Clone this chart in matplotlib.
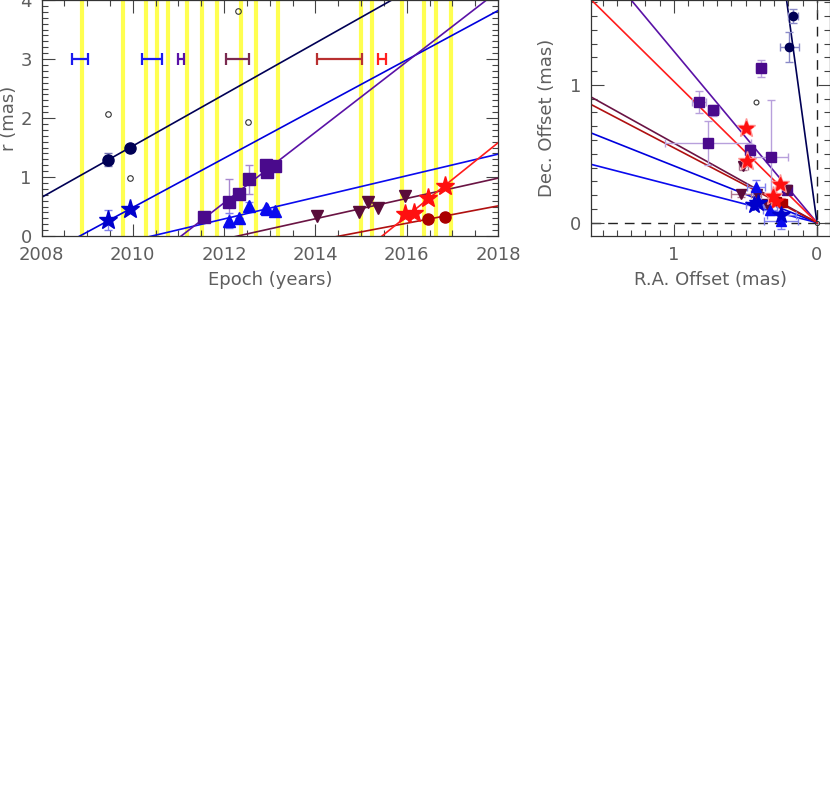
import numpy as np
import matplotlib
matplotlib.use("Agg")
import matplotlib.pyplot as plt
from matplotlib.ticker import MultipleLocator

plt.rcParams['font.family'] = ['DejaVu Sans']
GREY = '#5e5e5e'

# ---- left panel data ----
obs_epochs = [2008.88, 2009.78, 2010.28, 2010.52, 2010.77, 2011.18, 2011.51, 2011.85,
              2012.37, 2012.70, 2013.18, 2015.00, 2015.24, 2015.89, 2016.38, 2016.64, 2016.97]

# components: fitted ejection epoch t0 and speed (mas/yr)
comp_names = ['navy', 'blue_star', 'blue_tri', 'purple', 'maroon', 'darkred', 'red']
comp_colors = ['#000055', '#0000dd', '#0a0aee', '#5a12a6', '#6a1444', '#b01010', '#ff1c1c']
comp_t0 = [2006.50, 2008.84, 2010.42, 2011.06, 2012.30, 2014.53, 2015.46]
comp_speed = [0.436, 0.417, 0.183, 0.598, 0.172, 0.147, 0.622]

# ejection epoch uncertainties (shown at r = 3)
ej_idx = [1, 2, 3, 4, 5, 6]
ej_err = [0.17, 0.22, 0.07, 0.25, 0.49, 0.09]
ej_colors = ['#1a1aee', '#1a1aee', '#5a12a6', '#7a2a50', '#b83030', '#ff2020']

navy_t = [2009.46, 2009.94]
navy_r = [1.29, 1.50]
navy_e = [0.11, 0.0]

bstar_t = [2009.46, 2009.94]
bstar_r = [0.27, 0.46]
bstar_e = [0.165, 0.0]

sq_t = [2011.57, 2012.11, 2012.33, 2012.54, 2012.91, 2012.95, 2013.12]
sq_r = [0.33, 0.58, 0.71, 0.96, 1.20, 1.09, 1.19]
sq_e = [0.0, 0.39, 0.0, 0.24, 0.0, 0.0, 0.0]

tri_t = [2012.11, 2012.33, 2012.54, 2012.91, 2012.95, 2013.12]
tri_r = [0.26, 0.31, 0.51, 0.47, 0.46, 0.42]
tri_e = [0.13, 0.0, 0.07, 0.0, 0.0, 0.0]

inv_t = [2014.03, 2014.96, 2015.16, 2015.38, 2015.97]
inv_r = [0.34, 0.40, 0.58, 0.48, 0.67]

dr_t = [2016.46, 2016.84]
dr_r = [0.28, 0.33]

rstar_t = [2015.96, 2016.17, 2016.46, 2016.84]
rstar_r = [0.37, 0.39, 0.65, 0.85]

open_t = [2009.45, 2009.94, 2012.53, 2012.30]
open_r = [2.06, 0.98, 1.93, 3.82]

# ---- right panel data (RA offset, Dec offset in mas) ----
comp_pa = [7.5, 67.6, 75.0, 38.8, 60.0, 61.5, 44.3]  # position angle, deg

r_navy_ra = [0.166, 0.194]
r_navy_dec = [1.50, 1.276]
r_navy_xe = [0.035, 0.065]
r_navy_ye = [0.05, 0.11]

r_sq_ra = [0.823, 0.725, 0.39, 0.76, 0.47, 0.32, 0.21]
r_sq_dec = [0.879, 0.816, 1.12, 0.577, 0.528, 0.48, 0.24]
r_sq_xe = [0.05, 0.04, 0.035, 0.30, 0.03, 0.12, 0.03]
r_sq_ye = [0.08, 0.04, 0.06, 0.16, 0.04, 0.41, 0.03]

r_inv_ra = [0.515, 0.53, 0.42, 0.35, 0.21]
r_inv_dec = [0.41, 0.206, 0.21, 0.134, 0.24]
r_inv_xe = [0.03, 0.07, 0.03, 0.03, 0.02]
r_inv_ye = [0.03, 0.02, 0.02, 0.02, 0.02]

r_rstar_ra = [0.50, 0.49, 0.26, 0.31, 0.29]
r_rstar_dec = [0.69, 0.45, 0.28, 0.19, 0.16]

r_dr_ra = [0.28, 0.24]
r_dr_dec = [0.16, 0.145]

r_tri_ra = [0.427, 0.25, 0.33]
r_tri_dec = [0.26, 0.012, 0.09]
r_tri_xe = [0.065, 0.12, 0.05]
r_tri_ye = [0.05, 0.06, 0.03]

r_bstar_ra = [0.44, 0.41, 0.25]
r_bstar_dec = [0.126, 0.145, 0.056]
r_bstar_xe = [0.06, 0.04, 0.1]
r_bstar_ye = [0.03, 0.03, 0.03]

r_open_ra = [0.427]
r_open_dec = [0.879]


fig = plt.figure(figsize=(8.3, 7.87), dpi=100)
W, H = 830.0, 787.0
ax = fig.add_axes([41.5 / W, 1 - 236 / H, 456.5 / W, 236 / H])
ax2 = fig.add_axes([590.7 / W, 1 - 236 / H, 239.3 / W, 236 / H])

for a in (ax, ax2):
    a.tick_params(which='both', direction='in', top=True, right=True,
                  colors='#444444', labelcolor=GREY, labelsize=13)
    a.tick_params(which='major', length=9, width=0.8, pad=7)
    a.tick_params(which='minor', length=4.5, width=0.8)
    for s in a.spines.values():
        s.set_color('#333333')
        s.set_linewidth(0.9)

# left panel
for e in obs_epochs:
    ax.axvline(e, color='#ffff50', lw=3, zorder=0)

tt = np.array([2006.0, 2019.0])
for c, t0, v in zip(comp_colors, comp_t0, comp_speed):
    ax.plot(tt, v * (tt - t0), color=c, lw=1.2, zorder=2)

for i, e, c in zip(ej_idx, ej_err, ej_colors):
    ax.errorbar([comp_t0[i]], [3.0], xerr=[e], fmt='none', ecolor=c, elinewidth=1.6,
                capsize=4, capthick=1.6, zorder=3)

ax.errorbar(navy_t, navy_r, yerr=navy_e, fmt='none', ecolor='#7070b0', elinewidth=1, capsize=3, zorder=3)
ax.plot(navy_t, navy_r, 'o', color='#000055', ms=8, zorder=4)
ax.errorbar(bstar_t, bstar_r, yerr=bstar_e, fmt='none', ecolor='#8080ee', elinewidth=1, capsize=3, zorder=3)
ax.plot(bstar_t, bstar_r, '*', color='#0000cc', ms=14, zorder=4)
ax.errorbar(sq_t, sq_r, yerr=sq_e, fmt='none', ecolor='#a888d0', elinewidth=1, capsize=3, zorder=3)
ax.plot(sq_t, sq_r, 's', color='#4a0a8c', ms=9, zorder=4)
ax.errorbar(tri_t, tri_r, yerr=tri_e, fmt='none', ecolor='#8080ee', elinewidth=1, capsize=3, zorder=3)
ax.plot(tri_t, tri_r, '^', color='#0a0aee', ms=8, zorder=4)
ax.plot(inv_t, inv_r, 'v', color='#5a0c3a', ms=8, zorder=4)
ax.plot(dr_t, dr_r, 'o', color='#aa0000', ms=8, zorder=4)
ax.plot(rstar_t, rstar_r, '*', color='#ff1010', ms=14, zorder=4)
ax.plot(open_t, open_r, 'o', mfc='none', mec='#333333', mew=0.8, ms=4, zorder=4)

ax.set_xlim(2008, 2018)
ax.set_ylim(0, 4)
ax.xaxis.set_major_locator(MultipleLocator(2))
ax.xaxis.set_minor_locator(MultipleLocator(0.5))
ax.yaxis.set_major_locator(MultipleLocator(1))
ax.yaxis.set_minor_locator(MultipleLocator(0.1))
ax.set_xlabel('Epoch (years)', fontsize=13, color=GREY, labelpad=5)
ax.set_ylabel('r (mas)', fontsize=13, color=GREY)
ax.yaxis.set_label_coords(-0.052, 0.5)

# right panel
ax2.axhline(0, color='#222222', lw=1, ls=(0, (7, 5)), zorder=1)
ax2.axvline(0, color='#222222', lw=1, ls=(0, (7, 5)), zorder=1)
for c, pa in zip(comp_colors, comp_pa):
    th = np.radians(pa)
    ax2.plot([0, 3 * np.sin(th)], [0, 3 * np.cos(th)], color=c, lw=1.2, zorder=2)

ax2.errorbar(r_navy_ra, r_navy_dec, xerr=r_navy_xe, yerr=r_navy_ye, fmt='none',
             ecolor='#8a8ac8', elinewidth=1, capsize=3, zorder=3)
ax2.plot(r_navy_ra, r_navy_dec, 'o', color='#000055', ms=6, zorder=4)
ax2.errorbar(r_sq_ra, r_sq_dec, xerr=r_sq_xe, yerr=r_sq_ye, fmt='none',
             ecolor='#b8a0dc', elinewidth=1, capsize=3, zorder=3)
ax2.plot(r_sq_ra, r_sq_dec, 's', color='#4a0a8c', ms=6.5, zorder=4)
ax2.errorbar(r_inv_ra, r_inv_dec, xerr=r_inv_xe, yerr=r_inv_ye, fmt='none',
             ecolor='#b07890', elinewidth=1, capsize=3, zorder=3)
ax2.plot(r_inv_ra, r_inv_dec, 'v', color='#5a0c3a', ms=6.5, zorder=4)
ax2.plot(r_rstar_ra, r_rstar_dec, '*', color='#ff9090', ms=14, zorder=4)
ax2.plot(r_rstar_ra, r_rstar_dec, '*', color='#ff1010', ms=10, zorder=5)
ax2.plot(r_dr_ra, r_dr_dec, 's', color='#aa0000', ms=5.5, zorder=4)
ax2.errorbar(r_tri_ra, r_tri_dec, xerr=r_tri_xe, yerr=r_tri_ye, fmt='none',
             ecolor='#8080ee', elinewidth=1, capsize=3, zorder=3)
ax2.plot(r_tri_ra, r_tri_dec, '^', color='#0a0aee', ms=7, zorder=4)
ax2.errorbar(r_bstar_ra, r_bstar_dec, xerr=r_bstar_xe, yerr=r_bstar_ye, fmt='none',
             ecolor='#8080ee', elinewidth=1, capsize=3, zorder=3)
ax2.plot(r_bstar_ra, r_bstar_dec, '*', color='#0000cc', ms=13, zorder=5)
ax2.plot(r_open_ra, r_open_dec, 'o', mfc='none', mec='#333333', mew=0.8, ms=3.5, zorder=4)
ax2.plot([0], [0], 'o', mfc='none', mec='#333333', mew=0.8, ms=3, zorder=6)

ax2.set_xlim(1.583, -0.091)
ax2.set_ylim(-0.097, 1.617)
ax2.xaxis.set_major_locator(MultipleLocator(1))
ax2.xaxis.set_minor_locator(MultipleLocator(0.1))
ax2.yaxis.set_major_locator(MultipleLocator(1))
ax2.yaxis.set_minor_locator(MultipleLocator(0.1))
ax2.set_xlabel('R.A. Offset (mas)', fontsize=13, color=GREY, labelpad=5)
ax2.set_ylabel('Dec. Offset (mas)', fontsize=13, color=GREY)
ax2.yaxis.set_label_coords(-0.145, 0.5)

fig.savefig('out.png', dpi=100)
